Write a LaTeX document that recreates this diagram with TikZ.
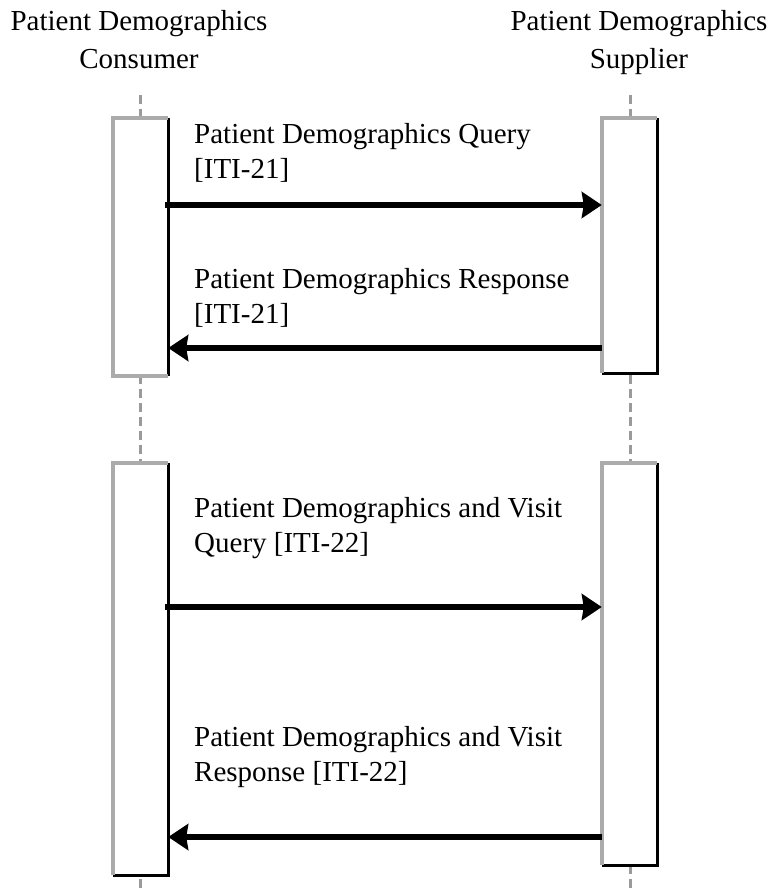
\documentclass[tikz,border=0pt]{standalone}
\usepackage{fontspec}
\setmainfont{Liberation Serif}
\usetikzlibrary{arrows.meta}
\definecolor{edgegray}{HTML}{ABABAB}
\definecolor{linegray}{HTML}{9A9A9A}

\begin{document}
\begin{tikzpicture}[x=1pt, y=-1pt,
  lifeline/.style={linegray, line width=3pt, dash pattern=on 9pt off 5pt},
  actbox/.style={rectangle, fill=white, inner sep=0pt, minimum width=55pt},
  lightedge/.style={edgegray, line width=4.5pt},
  darkedge/.style={black, line width=3pt},
  msg/.style={line width=5.5pt, -{Stealth[length=20pt, width=26pt, inset=2pt]}},
  hdr/.style={anchor=north, align=center, inner sep=0pt, font=\fontsize{29}{38}\selectfont},
  lbl/.style={anchor=north west, align=left, inner sep=0pt, font=\fontsize{29}{35}\selectfont}]

\useasboundingbox (0,0) rectangle (771,893);

\node [hdr] (consumer) at (139,10) {Patient Demographics\\Consumer};
\node [hdr] (supplier) at (639,10) {Patient Demographics\\Supplier};

\coordinate (cons top) at (140,95);
\coordinate (cons bot) at (140,893);
\coordinate (sup top) at (630,95);
\coordinate (sup bot) at (630,893);
\draw [lifeline] (cons top) -- (cons bot);
\draw [lifeline] (sup top) -- (sup bot);

% activation boxes
\node [actbox, minimum height=258pt] (cons1) at (140.5,247) {};
\node [actbox, minimum height=255pt] (sup1) at (629.5,245.5) {};
\node [actbox, minimum height=412pt] (cons2) at (140.5,669) {};
\node [actbox, minimum height=402pt] (sup2) at (629.5,664) {};

\draw [darkedge]  (cons1.north east) -- (cons1.south east);
\draw [lightedge] (cons1.south east) -- (cons1.south west) -- (cons1.north west) -- (cons1.north east);
\draw [darkedge]  (sup1.north east) -- (sup1.south east) -- (sup1.south west);
\draw [lightedge] (sup1.south west) -- (sup1.north west) -- (sup1.north east);
\draw [darkedge]  (cons2.north east) -- (cons2.south east) -- (cons2.south west);
\draw [lightedge] (cons2.south west) -- (cons2.north west) -- (cons2.north east);
\draw [darkedge]  (sup2.north east) -- (sup2.south east) -- (sup2.south west);
\draw [lightedge] (sup2.south west) -- (sup2.north west) -- (sup2.north east);

% messages
\node [lbl] (query1) at (194,123) {Patient Demographics Query\\{[ITI-21]}};
\coordinate (q1 start) at (165,205);
\draw [msg] (q1 start) -- (q1 start -| sup1.west);

\node [lbl] (resp1) at (194,268) {Patient Demographics Response\\{[ITI-21]}};
\coordinate (r1 start) at (602,348);
\draw [msg] (r1 start) -- (r1 start -| cons1.east);

\node [lbl] (query2) at (194,497) {Patient Demographics and Visit\\Query [ITI-22]};
\coordinate (q2 start) at (165,607);
\draw [msg] (q2 start) -- (q2 start -| sup2.west);

\node [lbl] (resp2) at (194,726) {Patient Demographics and Visit\\Response [ITI-22]};
\coordinate (r2 start) at (602,837);
\draw [msg] (r2 start) -- (r2 start -| cons2.east);

\end{tikzpicture}
\end{document}
